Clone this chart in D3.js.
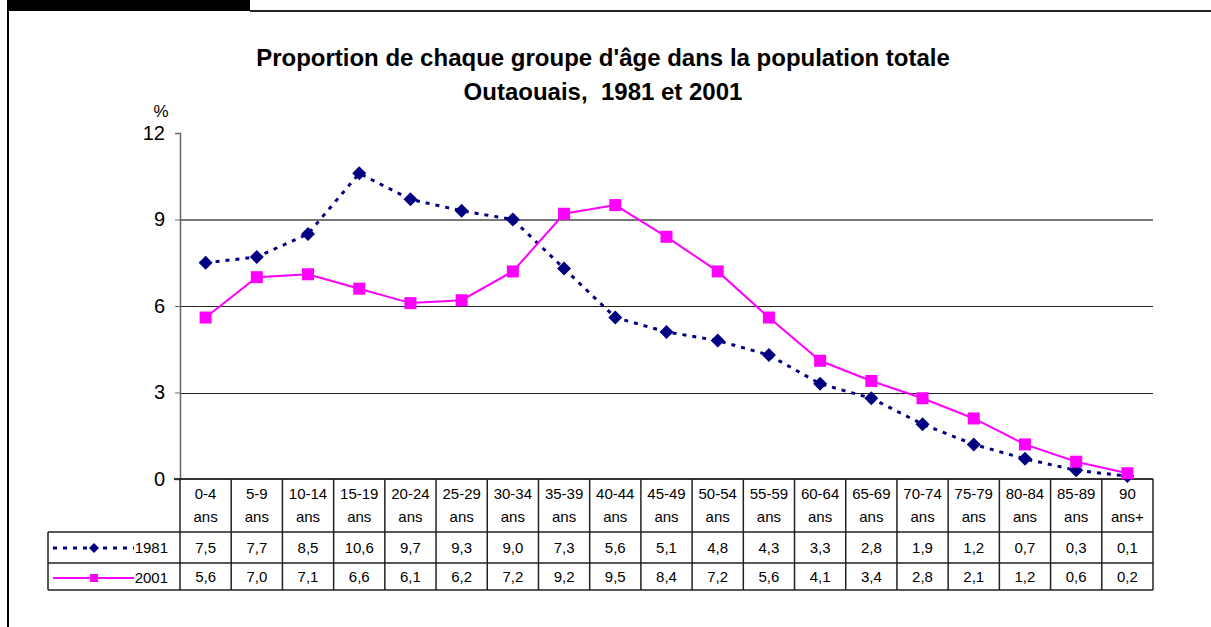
<!DOCTYPE html>
<html>
<head>
<meta charset="utf-8">
<script src="https://cdn.jsdelivr.net/npm/d3@7"></script>
<style>
  body { margin: 0; background: #fff; }
  svg { display: block; font-family: "Liberation Sans", Arial, sans-serif; }
</style>
</head>
<body>
<svg id="chart" width="1211" height="627"></svg>
<script>
// données
const groupes = ["0-4", "5-9", "10-14", "15-19", "20-24", "25-29", "30-34", "35-39", "40-44",
  "45-49", "50-54", "55-59", "60-64", "65-69", "70-74", "75-79", "80-84", "85-89", "90"];
const suffixes = ["ans", "ans", "ans", "ans", "ans", "ans", "ans", "ans", "ans",
  "ans", "ans", "ans", "ans", "ans", "ans", "ans", "ans", "ans", "ans+"];
const val1981 = [7.5, 7.7, 8.5, 10.6, 9.7, 9.3, 9.0, 7.3, 5.6, 5.1, 4.8, 4.3, 3.3, 2.8, 1.9, 1.2, 0.7, 0.3, 0.1];
const val2001 = [5.6, 7.0, 7.1, 6.6, 6.1, 6.2, 7.2, 9.2, 9.5, 8.4, 7.2, 5.6, 4.1, 3.4, 2.8, 2.1, 1.2, 0.6, 0.2];
const yTicks = [0, 3, 6, 9, 12];

const series = [
  {name: "1981", values: val1981, color: "#000080", shape: "diamond", dash: "4,6"},
  {name: "2001", values: val2001, color: "#ff00ff", shape: "square", dash: null}
];

const svg = d3.select("#chart");
const fmt = v => d3.format(".1f")(v).replace(".", ",");

// cadre
svg.append("rect").attr("x", 7).attr("y", 0).attr("width", 243).attr("height", 11).attr("fill", "#000");
svg.append("line").attr("x1", 250).attr("x2", 1211).attr("y1", 11).attr("y2", 11).attr("stroke", "#222").attr("stroke-width", 2);
svg.append("line").attr("x1", 8).attr("x2", 8).attr("y1", 10).attr("y2", 627).attr("stroke", "#000").attr("stroke-width", 2);

// titre
svg.append("text").attr("x", 603).attr("y", 66).attr("text-anchor", "middle")
  .attr("font-size", 24).attr("font-weight", "bold").text("Proportion de chaque groupe d'âge dans la population totale");
svg.append("text").attr("x", 603).attr("y", 100).attr("text-anchor", "middle").style("white-space", "pre")
  .attr("font-size", 24).attr("font-weight", "bold").text("Outaouais,  1981 et 2001");

const pLeft = 180, pRight = 1153, pTop = 133, pBottom = 479;
const x = d3.scaleBand().domain(groupes).range([pLeft, pRight]);
const y = d3.scaleLinear().domain([0, 12]).range([pBottom, pTop]);

// grille
svg.append("g").selectAll("line").data(yTicks.filter(t => t > 0 && t < 12)).enter().append("line")
  .attr("x1", pLeft).attr("x2", pRight)
  .attr("y1", d => d === 9 ? Math.round(y(d)) : Math.round(y(d)) + 0.5)
  .attr("y2", d => d === 9 ? Math.round(y(d)) : Math.round(y(d)) + 0.5)
  .attr("stroke", d => d === 9 ? "#777" : "#222").attr("stroke-width", d => d === 9 ? 2 : 1);

// axe y
const yAxis = svg.append("g").attr("transform", `translate(${pLeft},0)`)
  .call(d3.axisLeft(y).tickValues(yTicks).tickSize(5).tickPadding(10).tickFormat(d3.format("d")));
yAxis.select(".domain").attr("stroke", "#666").attr("stroke-width", 1.5);
yAxis.selectAll(".tick line").attr("stroke", "#666");
yAxis.selectAll("text").attr("font-size", 20).attr("fill", "#000").attr("font-family", "Liberation Sans, Arial, sans-serif");
svg.append("text").attr("x", 161).attr("y", 117).attr("text-anchor", "middle").attr("font-size", 17).text("%");

// axe x
svg.append("line").attr("x1", pLeft - 6).attr("x2", pRight).attr("y1", pBottom).attr("y2", pBottom)
  .attr("stroke", "#333").attr("stroke-width", 2);

// lignes
series.forEach(s => {
  const line = d3.line().x((d, i) => x(groupes[i]) + x.bandwidth() / 2).y(d => y(d));
  svg.append("path").datum(s.values).attr("d", line).attr("fill", "none")
    .attr("stroke", s.color).attr("stroke-width", s.dash ? 3 : 2)
    .attr("stroke-dasharray", s.dash);
});

function marker(g, shape, color, cx, cy, half) {
  if (shape === "diamond") {
    const r = half + 1;
    g.append("path").attr("d", `M${cx},${cy - r}L${cx + r},${cy}L${cx},${cy + r}L${cx - r},${cy}Z`).attr("fill", color);
  } else {
    g.append("rect").attr("x", cx - half).attr("y", cy - half).attr("width", 2 * half).attr("height", 2 * half).attr("fill", color);
  }
}

const markers = svg.append("g");
series.forEach(s => {
  s.values.forEach((v, i) => marker(markers, s.shape, s.color, x(groupes[i]) + x.bandwidth() / 2, y(v), 6));
});

// tableau
const rowTop = 532, rowMid = 563, rowBot = 590, legLeft = 48;
const tbl = svg.append("g").attr("stroke", "#222").attr("stroke-width", 1.5);
tbl.append("line").attr("x1", legLeft).attr("x2", pRight).attr("y1", rowTop).attr("y2", rowTop);
tbl.append("line").attr("x1", legLeft).attr("x2", pRight).attr("y1", rowMid).attr("y2", rowMid);
tbl.append("line").attr("x1", legLeft).attr("x2", pRight).attr("y1", rowBot).attr("y2", rowBot);
tbl.append("line").attr("x1", legLeft).attr("x2", legLeft).attr("y1", rowTop).attr("y2", rowBot);
tbl.append("line").attr("x1", pLeft).attr("x2", pLeft).attr("y1", pBottom).attr("y2", rowBot);
tbl.selectAll(".col").data(groupes).enter().append("line")
  .attr("x1", d => x(d) + x.bandwidth()).attr("x2", d => x(d) + x.bandwidth())
  .attr("y1", pBottom).attr("y2", rowBot);

const cells = svg.append("g").attr("font-size", 15).attr("text-anchor", "middle");
groupes.forEach((g, i) => {
  const cx = x(g) + x.bandwidth() / 2;
  cells.append("text").attr("x", cx).attr("y", 499).text(g);
  cells.append("text").attr("x", cx).attr("y", 522).text(suffixes[i]);
  cells.append("text").attr("x", cx).attr("y", 553).text(fmt(val1981[i]));
  cells.append("text").attr("x", cx).attr("y", 582).text(fmt(val2001[i]));
});

// légende
series.forEach((s, k) => {
  const ly = k === 0 ? 548 : 578;
  svg.append("line").attr("x1", 53).attr("x2", 134).attr("y1", ly).attr("y2", ly)
    .attr("stroke", s.color).attr("stroke-width", s.dash ? 3 : 2).attr("stroke-dasharray", s.dash);
  marker(svg, s.shape, s.color, 94, ly, 4);
  svg.append("text").attr("x", 168).attr("y", ly + 5).attr("text-anchor", "end").attr("font-size", 15).text(s.name);
});
</script>
</body>
</html>
